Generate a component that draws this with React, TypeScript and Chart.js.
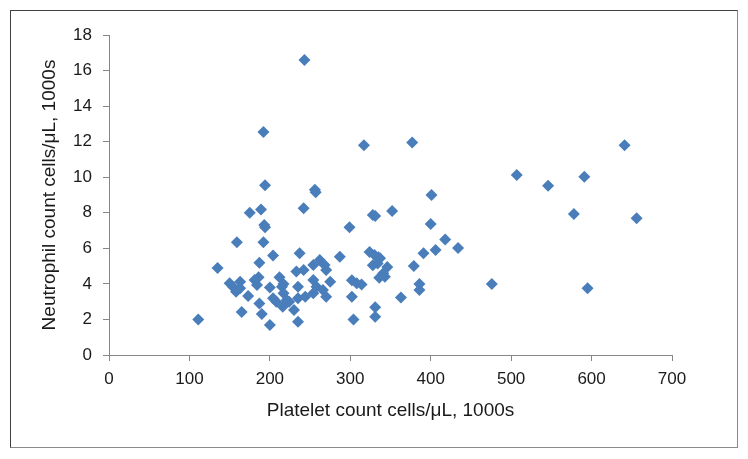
import React, { useEffect, useRef } from "react";
import { Chart, registerables } from "chart.js";

Chart.register(...registerables);

const platelet: number[] = [
  111, 135, 150, 154, 158, 159, 163, 163, 165, 173,
  175, 181, 184, 186, 187, 187, 189, 190, 192, 194,
  193, 194, 192, 200, 200, 204, 204, 208, 212, 215,
  217, 216, 221, 217, 224, 230, 233, 235, 235, 235,
  237, 242, 242, 243, 244, 254, 262, 268, 270, 275,
  254, 258, 266, 254, 270, 256, 257, 287, 299, 302,
  302, 304, 308, 314, 317, 324, 328, 331, 328, 331,
  331, 335, 334, 336, 341, 343, 346, 330, 337, 352,
  363, 377, 379, 386, 386, 391, 400, 401, 406, 418,
  434, 476, 507, 546, 591, 578, 595, 641, 656,
];

const neutrophil: number[] = [
  2.0, 4.9, 4.03, 3.84, 3.56, 6.34, 4.12, 3.75, 2.42, 3.32,
  8.0, 4.22, 3.94, 4.37, 5.19, 2.9, 8.19, 2.3, 12.55, 9.55,
  7.31, 7.18, 6.34, 3.8, 1.69, 5.6, 3.19, 3.0, 4.37, 3.84,
  3.47, 2.72, 3.1, 4.0, 3.0, 2.53, 4.69, 3.84, 3.19, 1.87,
  5.72, 4.78, 8.25, 16.6, 3.28, 5.06, 5.34, 5.06, 4.78, 4.12,
  4.22, 3.84, 3.66, 3.47, 3.28, 9.3, 9.15, 5.53, 7.18, 4.2,
  3.28, 2.0, 4.03, 3.97, 11.8, 5.8, 7.87, 7.82, 5.05, 2.68,
  2.15, 5.5, 5.15, 4.35, 4.6, 4.4, 4.95, 5.62, 5.44, 8.1,
  3.24, 11.95, 5.0, 3.99, 3.66, 5.72, 7.37, 9.0, 5.9, 6.5,
  6.02, 4.0, 10.12, 9.52, 10.03, 7.93, 3.75, 11.8, 7.69,
];

const xTickValues: number[] = [0, 100, 200, 300, 400, 500, 600, 700];
const yTickValues: number[] = [0, 2, 4, 6, 8, 10, 12, 14, 16, 18];
const xTitle = "Platelet count cells/μL, 1000s";
const yTitle = "Neutrophil count cells/μL, 1000s";

export default function App() {
  const canvasRef = useRef<HTMLCanvasElement | null>(null);

  useEffect(() => {
    if (!canvasRef.current) return;
    const points = platelet.map((x, i) => ({ x, y: neutrophil[i] }));
    const font = "'Liberation Sans', Arial, sans-serif";
    const axisColor = "#868686";
    const chart = new Chart(canvasRef.current, {
      type: "scatter",
      data: {
        datasets: [
          {
            data: points,
            pointStyle: "rectRot",
            pointRadius: 6,
            pointHoverRadius: 6,
            backgroundColor: "#4a7ebb",
            borderColor: "#4a7ebb",
            borderWidth: 0,
          },
        ],
      },
      options: {
        animation: false,
        responsive: false,
        maintainAspectRatio: false,
        layout: { padding: { top: 35, right: 76, left: 0, bottom: 0 } },
        plugins: { legend: { display: false }, tooltip: { enabled: false } },
        scales: {
          x: {
            type: "linear",
            min: xTickValues[0],
            max: xTickValues[xTickValues.length - 1],
            afterFit: (scale: any) => {
              scale.height = 104;
            },
            afterBuildTicks: (scale: any) => {
              scale.ticks = xTickValues.map((v) => ({ value: v }));
            },
            grid: {
              display: true,
              drawOnChartArea: false,
              drawTicks: true,
              tickLength: 6,
              color: axisColor,
            },
            border: { display: true, color: axisColor, width: 1 },
            ticks: {
              padding: 8,
              color: "#1a1a1a",
              font: { family: font, size: 17 },
            },
            title: {
              display: true,
              text: xTitle,
              color: "#1a1a1a",
              font: { family: font, size: 19 },
              padding: { top: 0, bottom: 37 },
            },
          },
          y: {
            type: "linear",
            min: yTickValues[0],
            max: yTickValues[yTickValues.length - 1],
            afterFit: (scale: any) => {
              scale.width = 109;
            },
            afterBuildTicks: (scale: any) => {
              scale.ticks = yTickValues.map((v) => ({ value: v }));
            },
            grid: {
              display: true,
              drawOnChartArea: false,
              drawTicks: true,
              tickLength: 6,
              color: axisColor,
            },
            border: { display: true, color: axisColor, width: 1 },
            ticks: {
              padding: 11,
              color: "#1a1a1a",
              font: { family: font, size: 17 },
            },
            title: {
              display: true,
              text: yTitle,
              color: "#1a1a1a",
              font: { family: font, size: 19 },
              padding: { top: 38, bottom: 0 },
            },
          },
        },
      },
    });
    return () => chart.destroy();
  }, []);

  return (
    <div
      style={{
        position: "absolute",
        left: 0,
        top: 0,
        width: 748,
        height: 459,
        background: "#ffffff",
      }}
    >
      <canvas
        ref={canvasRef}
        width={748}
        height={459}
        style={{ position: "absolute", left: 0, top: 0, width: 748, height: 459 }}
      />
      <div
        style={{
          position: "absolute",
          left: 10,
          top: 10,
          width: 726,
          height: 436,
          borderTop: "1px solid #404040",
          borderLeft: "1px solid #404040",
          borderRight: "1px solid #8a8a8a",
          borderBottom: "1px solid #8a8a8a",
          pointerEvents: "none",
        }}
      />
    </div>
  );
}
